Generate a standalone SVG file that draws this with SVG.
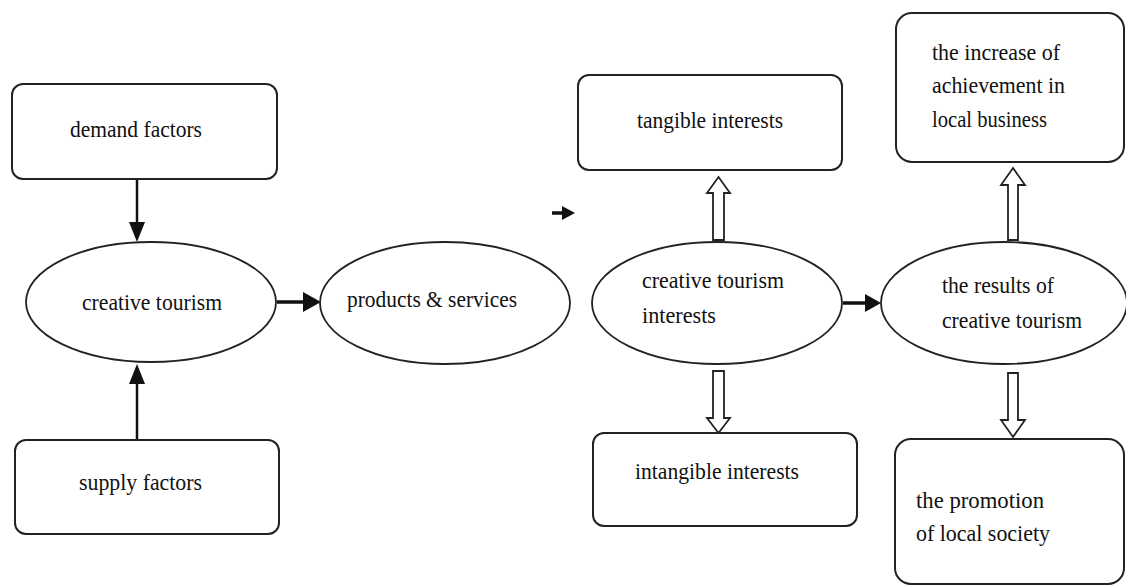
<svg xmlns="http://www.w3.org/2000/svg" width="1126" height="586" viewBox="0 0 1126 586">
<style>
.box{fill:#fff;stroke:#222;stroke-width:2}
.ell{fill:#fff;stroke:#222;stroke-width:1.8}
.t{font-family:"Liberation Serif","Times New Roman",serif;font-size:24px;fill:#111}
.ln{stroke:#111;stroke-width:2.5;fill:none}
.lnt{stroke:#111;stroke-width:3.5;fill:none}
.hd{fill:#111;stroke:none}
.hol{fill:#fff;stroke:#222;stroke-width:1.8;stroke-linejoin:miter}
</style>
<rect width="1126" height="586" fill="#fff"/>
<g id="connectors">
<line class="ln" x1="137" y1="179" x2="137" y2="223"/>
<polygon class="hd" points="129,222 145,222 137,242"/>
<line class="ln" x1="137" y1="440" x2="137" y2="383"/>
<polygon class="hd" points="129,384 145,384 137,364"/>
<line class="lnt" x1="277" y1="302" x2="304" y2="302"/>
<polygon class="hd" points="303,292 303,312 321,302"/>
<line class="lnt" x1="552" y1="213" x2="563" y2="213"/>
<polygon class="hd" points="562,206 562,220 575,213"/>
<line class="lnt" x1="843" y1="303" x2="866" y2="303"/>
<polygon class="hd" points="865,294 865,312 881,303"/>
<polygon class="hol" points="713,240 713,193 707,193 718.5,177 730,193 724,193 724,240"/>
<polygon class="hol" points="713,371 713,418 707,418 718.5,433 730,418 724,418 724,371"/>
<polygon class="hol" points="1008,240 1008,185 1001,185 1013,168 1025,185 1018,185 1018,240"/>
<polygon class="hol" points="1008,373 1008,420 1001,420 1013,437 1025,420 1018,420 1018,373"/>
</g>
<g id="demand">
<rect class="box" x="12" y="84" width="265" height="95" rx="11"/>
<text class="t" x="70" y="137" textLength="132" lengthAdjust="spacingAndGlyphs">demand factors</text>
</g>
<g id="creative">
<ellipse class="ell" cx="151" cy="302" rx="125" ry="60"/>
<text class="t" x="82" y="310" textLength="140" lengthAdjust="spacingAndGlyphs">creative tourism</text>
</g>
<g id="supply">
<rect class="box" x="15" y="440" width="264" height="94" rx="11"/>
<text class="t" x="79" y="490" textLength="123" lengthAdjust="spacingAndGlyphs">supply factors</text>
</g>
<g id="products">
<ellipse class="ell" cx="445" cy="303" rx="125" ry="61"/>
<text class="t" x="347" y="307" textLength="170" lengthAdjust="spacingAndGlyphs">products &amp; services</text>
</g>
<g id="tangible">
<rect class="box" x="578" y="75" width="264" height="95" rx="11"/>
<text class="t" x="637" y="128" textLength="146" lengthAdjust="spacingAndGlyphs">tangible interests</text>
</g>
<g id="interests">
<ellipse class="ell" cx="717" cy="303" rx="125" ry="61"/>
<text class="t" x="642" y="288" textLength="142" lengthAdjust="spacingAndGlyphs">creative tourism</text>
<text class="t" x="642" y="323" textLength="74" lengthAdjust="spacingAndGlyphs">interests</text>
</g>
<g id="intangible">
<rect class="box" x="593" y="433" width="264" height="93" rx="11"/>
<text class="t" x="635" y="479" textLength="164" lengthAdjust="spacingAndGlyphs">intangible interests</text>
</g>
<g id="results">
<ellipse class="ell" cx="1004" cy="303" rx="123" ry="61"/>
<text class="t" x="942" y="293" textLength="112" lengthAdjust="spacingAndGlyphs">the results of</text>
<text class="t" x="942" y="328" textLength="140" lengthAdjust="spacingAndGlyphs">creative tourism</text>
</g>
<g id="increase">
<rect class="box" x="896" y="13" width="228" height="149" rx="16"/>
<text class="t" x="932" y="60" textLength="128" lengthAdjust="spacingAndGlyphs">the increase of</text>
<text class="t" x="932" y="93" textLength="133" lengthAdjust="spacingAndGlyphs">achievement in</text>
<text class="t" x="932" y="127" textLength="115" lengthAdjust="spacingAndGlyphs">local business</text>
</g>
<g id="promotion">
<rect class="box" x="895" y="439" width="229" height="145" rx="16"/>
<text class="t" x="916" y="508" textLength="128" lengthAdjust="spacingAndGlyphs">the promotion</text>
<text class="t" x="916" y="541" textLength="134" lengthAdjust="spacingAndGlyphs">of local society</text>
</g>
</svg>
